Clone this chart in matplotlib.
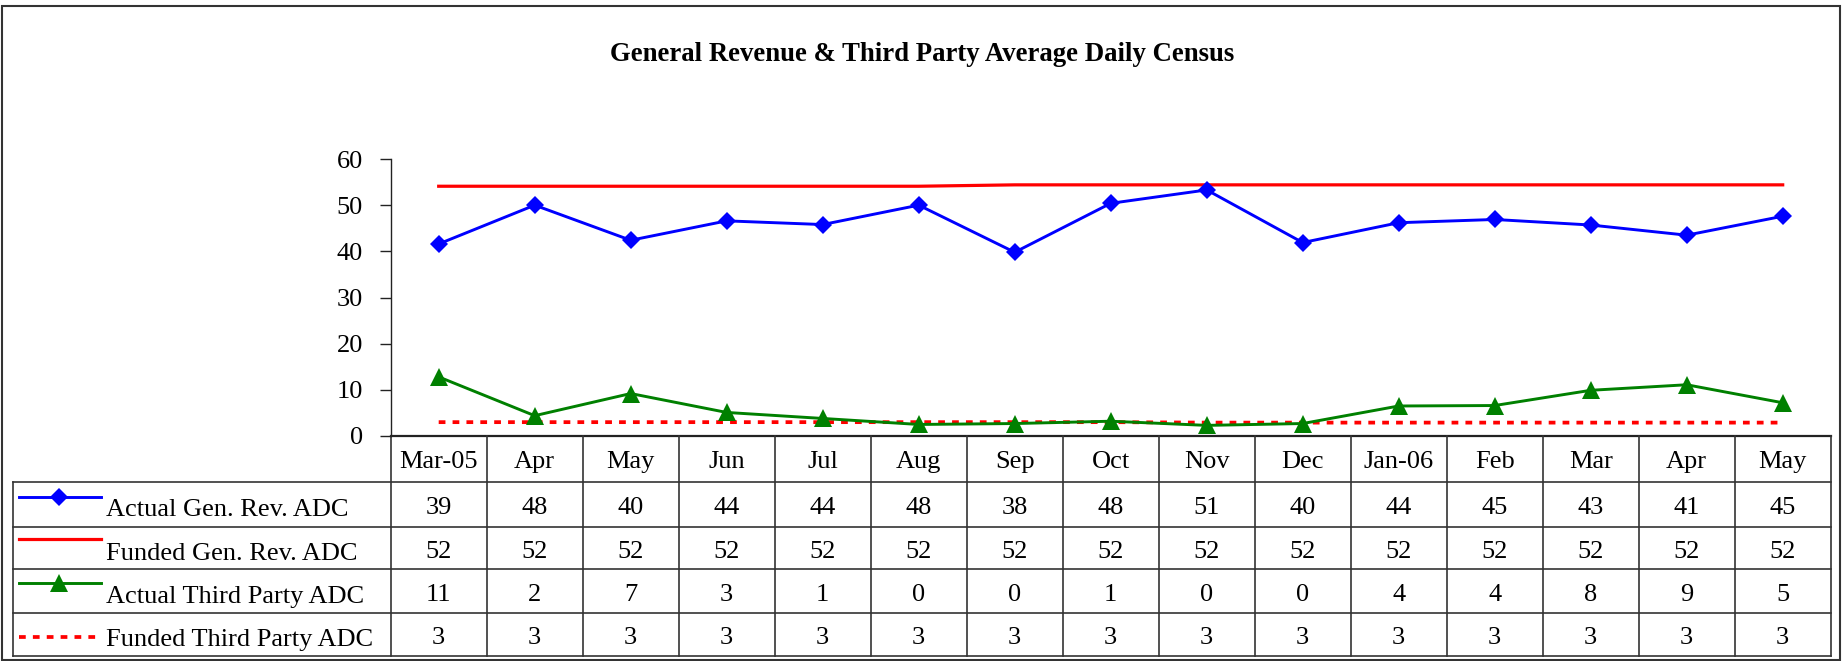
import matplotlib
matplotlib.use("Agg")
import matplotlib.pyplot as plt
from matplotlib.lines import Line2D
from matplotlib.patches import Rectangle
from matplotlib.transforms import blended_transform_factory

# ---------------- data ----------------
categories = ["Mar-05", "Apr", "May", "Jun", "Jul", "Aug", "Sep", "Oct",
              "Nov", "Dec", "Jan-06", "Feb", "Mar", "Apr", "May"]

series_names = ["Actual Gen. Rev. ADC", "Funded Gen. Rev. ADC",
                "Actual Third Party ADC", "Funded Third Party ADC"]

# values as plotted
actual_gen_plot = [41.6, 50.0, 42.4, 46.6, 45.8, 50.0, 39.8, 50.4,
                   53.3, 41.9, 46.2, 46.9, 45.7, 43.5, 47.6]
funded_gen_plot = [54.1, 54.1, 54.1, 54.1, 54.1, 54.1, 54.4, 54.4,
                   54.4, 54.4, 54.4, 54.4, 54.4, 54.4, 54.4]
actual_tp_plot = [12.8, 4.4, 9.2, 5.1, 3.8, 2.5, 2.7, 3.2,
                  2.3, 2.7, 6.5, 6.6, 9.9, 11.1, 7.2]
funded_tp_plot = [3.0, 3.0, 3.0, 3.0, 3.0, 3.0, 3.0, 3.0,
                  2.9, 2.9, 2.9, 2.9, 2.9, 2.9, 2.9]

# values printed in the data table
actual_gen_table = [39, 48, 40, 44, 44, 48, 38, 48, 51, 40, 44, 45, 43, 41, 45]
funded_gen_table = [52] * 15
actual_tp_table = [11, 2, 7, 3, 1, 0, 0, 1, 0, 0, 4, 4, 8, 9, 5]
funded_tp_table = [3] * 15

y_ticks = [0, 10, 20, 30, 40, 50, 60]
title = "General Revenue & Third Party Average Daily Census"

# ---------------- layout ----------------
W, H = 1845, 661
FONT = "Liberation Serif"
FS = 19
BLUE, RED, GREEN = "#0000FF", "#FF0000", "#008000"

fig = plt.figure(figsize=(W / 100, H / 100), dpi=100)
fig.patch.set_facecolor("white")

ax_left, ax_right = 390.7, 1830.7
ax_top, ax_bottom = 159.0, 436.0
ax = fig.add_axes([ax_left / W, 1 - ax_bottom / H,
                   (ax_right - ax_left) / W, (ax_bottom - ax_top) / H])

# overlay in pixel coordinates for table/frame/title
ov = fig.add_axes([0, 0, 1, 1], zorder=-1)
ov.set_xlim(0, W)
ov.set_ylim(H, 0)
ov.axis("off")

LW_BLUE, LW_RED, LW_GREEN, LW_DOT = 2.1, 2.3, 2.1, 2.7
MS_D, MS_T = 9.5, 12.5
DASH = (0, (1.8, 1.9))

x = list(range(len(categories)))
ax.plot(x, funded_gen_plot, color=RED, lw=LW_RED, zorder=3)
ax.plot(x, actual_gen_plot, color=BLUE, lw=LW_BLUE, marker="D", ms=MS_D,
        markeredgewidth=0, zorder=4)
ax.plot(x, funded_tp_plot, color=RED, lw=LW_DOT, linestyle=DASH, zorder=3)
ax.plot(x, actual_tp_plot, color=GREEN, lw=LW_GREEN, marker="^", ms=MS_T,
        markeredgewidth=0, zorder=4)

ax.set_xlim(-0.5, len(categories) - 0.5)
ax.set_ylim(0, 60)
ax.set_yticks(y_ticks)
ax.set_yticklabels([str(t) for t in y_ticks], fontfamily=FONT, fontsize=FS)
ax.set_xticks([])
for s in ["top", "right", "bottom"]:
    ax.spines[s].set_visible(False)
ax.spines["left"].set_color("#222222")
ax.spines["left"].set_linewidth(1.0)
ax.tick_params(axis="y", direction="out", length=8, width=1.0,
               color="#222222", pad=12)
ax.patch.set_alpha(0)

# title
ov.text(W / 2, 61, title, ha="center", va="baseline", fontfamily=FONT,
        fontsize=19.3, fontweight="bold")

# outer frame
ov.add_patch(Rectangle((2, 6), 1838, 653.5, fill=False, edgecolor="#333333",
                       lw=1.5))

# ---------------- data table ----------------
tr = blended_transform_factory(ax.transData, ov.transData)
header_top = 436.0
row_edges = [482.3, 526.7, 569.3, 612.7, 655.7]
legend_left = 12.6
grid_kw = dict(color="#333333", lw=1.2, zorder=2)

# horizontal lines
ov.plot([ax_left, ax_right], [header_top, header_top], color="#222222", lw=1.6)
for yy in row_edges:
    ov.plot([legend_left, ax_right], [yy, yy], **grid_kw)
# vertical lines
for i in range(len(categories) + 1):
    ov.plot([i - 0.5, i - 0.5], [header_top, row_edges[-1]], transform=tr,
            **grid_kw)
ov.plot([legend_left, legend_left], [row_edges[0], row_edges[-1]], **grid_kw)

# header labels
hdr_c = (header_top + row_edges[0]) / 2
for i, c in enumerate(categories):
    ov.text(i, hdr_c + 8.5, c, transform=tr, ha="center", va="baseline",
            fontfamily=FONT, fontsize=FS)

table_rows = [actual_gen_table, funded_gen_table, actual_tp_table,
              funded_tp_table]
for r, vals in enumerate(table_rows):
    rc = (row_edges[r] + row_edges[r + 1]) / 2
    for i, v in enumerate(vals):
        ov.text(i, rc + 10, str(v), transform=tr, ha="center", va="baseline",
                fontfamily=FONT, fontsize=FS)
    ov.text(106.4, rc + 11.5, series_names[r], ha="left", va="baseline",
            fontfamily=FONT, fontsize=FS)

# legend keys in the table
styles = [
    dict(color=BLUE, lw=LW_BLUE, marker="D", ms=MS_D, dy=-7.8),
    dict(color=RED, lw=LW_RED, marker=None, dy=-8.7),
    dict(color=GREEN, lw=LW_GREEN, marker="^", ms=MS_T, dy=-7.7),
    dict(color=RED, lw=LW_DOT, linestyle=DASH, marker=None, dy=2.5),
]
for r, st in enumerate(styles):
    st = dict(st)
    dy = st.pop("dy")
    marker = st.pop("marker")
    ms = st.pop("ms", None)
    rc = (row_edges[r] + row_edges[r + 1]) / 2
    yy = rc + dy
    ov.add_line(Line2D([19, 101], [yy, yy], **st))
    if marker:
        ov.add_line(Line2D([59], [yy], linestyle="none", marker=marker,
                           ms=ms, markeredgewidth=0, color=st["color"]))

fig.savefig("out.png", dpi=100, facecolor="white")
